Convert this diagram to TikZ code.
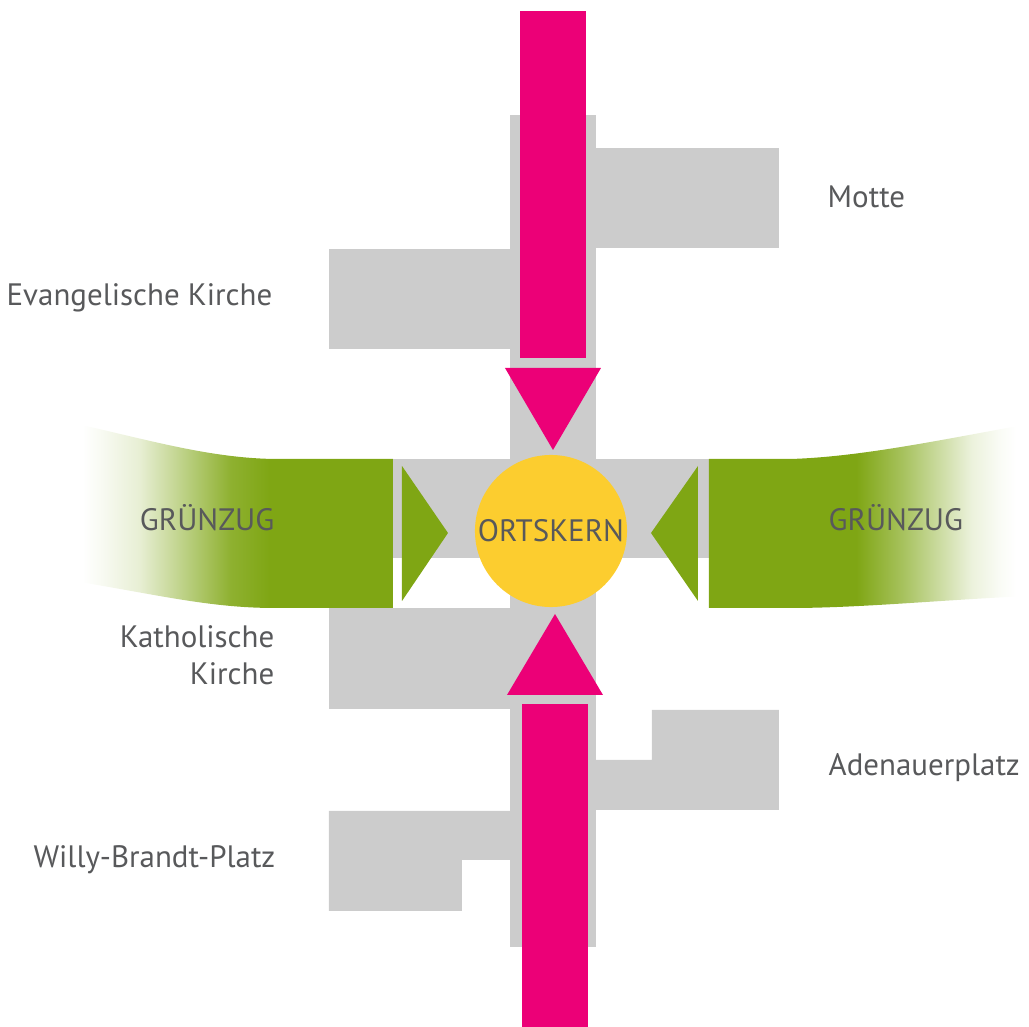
\documentclass[tikz,border=0pt]{standalone}
\usepackage{fontspec}
\setmainfont{PT Sans}
\usepackage{tikz}

\definecolor{kern}{HTML}{FCCD2F}
\definecolor{achse}{HTML}{EC0077}
\definecolor{gruen}{HTML}{7FA614}
\definecolor{bau}{HTML}{CCCCCC}
\definecolor{schrift}{HTML}{58595B}

\pgfdeclarehorizontalshading{gruenlinks}{100bp}{color(0bp)=(white); color(31bp)=(white); color(33.5bp)=(gruen!5); color(39bp)=(gruen!18); color(45bp)=(gruen!50); color(52bp)=(gruen!88); color(57.5bp)=(gruen); color(100bp)=(gruen)}
\pgfdeclarehorizontalshading{gruenrechts}{100bp}{color(0bp)=(gruen); color(48bp)=(gruen); color(55bp)=(gruen!70); color(61bp)=(gruen!40); color(66bp)=(gruen!15); color(70.5bp)=(gruen!4); color(73bp)=(white); color(100bp)=(white)}

\begin{document}
\begin{tikzpicture}[x=0.01cm,y=-0.01cm,
		txt/.style={text=schrift, inner sep=0pt, font=\fontsize{8.8}{10.5}\selectfont}]
			\useasboundingbox (0,0) rectangle (1029,1027);
			\fill[bau] (510,115) rectangle (596,947);
			\fill[bau] (596,148) rectangle (779,248);
			\fill[bau] (329,249) rectangle (510,349);
			\fill[bau] (393,459) rectangle (709,558);
			\fill[bau] (329,608) rectangle (510,709);
			\fill[bau] (652,710) -- (779,710) -- (779,810) -- (596,810) -- (596,760) -- (652,760) -- cycle;
			\fill[bau] (329,811) -- (510,811) -- (510,860) -- (462,860) -- (462,911) -- (329,911) -- cycle;
			\fill[achse] (520,11) rectangle (586,358);
			\fill[achse] (505,368) -- (601,368) -- (553,450) -- cycle;
			\fill[achse] (507,695) -- (603,695) -- (555,614) -- cycle;
			\fill[achse] (522,704) rectangle (588,1027);
			\shade[shading=gruenlinks] (393,459) -- (275,459) .. controls (200,458) and (130,434) .. (40,416) -- (40,576) .. controls (140,590) and (200,608) .. (275,608) -- (393,608) -- cycle;
			\shade[shading=gruenrechts] (709,459) -- (790,459) .. controls (860,457) and (940,440) .. (1029,424) -- (1029,596) .. controls (940,600) and (860,608) .. (790,608) -- (709,608) -- cycle;
			\fill[gruen] (402,466) -- (448,533) -- (402,601) -- cycle;
			\fill[gruen] (698,466) -- (651,533) -- (698,601) -- cycle;
			\node [circle, fill=kern, minimum size=1.52cm, txt] (ortskern) at (551,531) {ORTSKERN};
			\node [anchor=base east, txt] (evkirche) at (273,306) {Evangelische Kirche};
			\node [anchor=base west, txt] (motte) at (827,208) {Motte};
			\node [anchor=east, align=right, txt] (kathkirche) at (275,655) {Katholische\\Kirche};
			\node [anchor=base west, txt] (adenauer) at (828,775) {Adenauerplatz};
			\node [anchor=base east, txt] (willy) at (276,867) {Willy-Brandt-Platz};
			\node [anchor=base east, txt] (gruenlinks) at (275,531) {GRÜNZUG};
			\node [anchor=base west, txt] (gruenrechts) at (828,531) {GRÜNZUG};
		\end{tikzpicture}
\end{document}
